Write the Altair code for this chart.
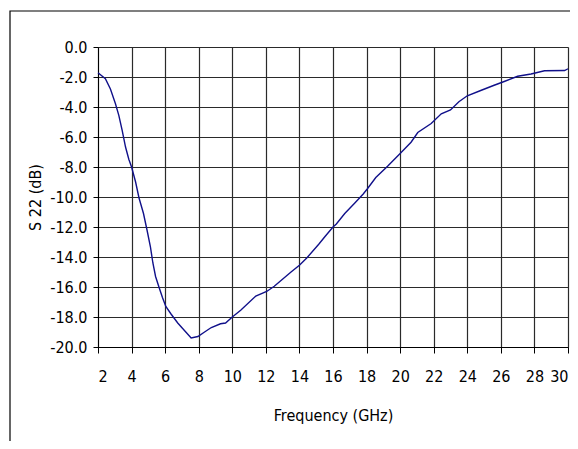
import altair as alt
import pandas as pd

freq = [2.0, 2.44, 2.74, 3.04, 3.24, 3.44, 3.64, 3.84, 4.0, 4.24, 4.44, 4.71, 4.92, 5.12,
        5.27, 5.43, 5.63, 5.84, 6.04, 6.35, 6.75, 7.15, 7.55, 7.95, 8.35, 8.75, 9.3, 9.6,
        10.0, 10.5, 11.4, 12.05, 12.5, 13.5, 14.0, 14.45, 15.15, 15.55, 16.0, 16.2, 16.7,
        17.3, 17.8, 18.05, 18.55, 19.25, 20.0, 20.65, 21.05, 21.85, 22.45, 23.0, 23.5, 24.0,
        24.8, 25.6, 26.2, 27.0, 27.8, 28.6, 29.8, 30.0]
s22 = [-1.72, -2.11, -2.8, -3.78, -4.56, -5.56, -6.67, -7.5, -8.0, -9.0, -10.05, -11.1,
       -12.2, -13.3, -14.4, -15.3, -16.0, -16.7, -17.3, -17.8, -18.4, -18.9, -19.4, -19.3,
       -19.0, -18.7, -18.45, -18.4, -18.0, -17.55, -16.6, -16.3, -15.95, -15.0, -14.55,
       -14.05, -13.15, -12.6, -12.0, -11.8, -11.1, -10.4, -9.8, -9.45, -8.7, -7.95, -7.1,
       -6.35, -5.7, -5.1, -4.45, -4.2, -3.65, -3.25, -2.9, -2.55, -2.3, -1.95, -1.8, -1.58,
       -1.57, -1.45]
x_ticks = list(range(2, 31, 2))
y_ticks = list(range(-20, 1, 2))

df = pd.DataFrame({"f": freq, "s": s22})
FONT = "Liberation Sans Narrow, Arial Narrow, DejaVu Sans Condensed, sans-serif"
GRID = "#2a2a2a"

line = alt.Chart(df).mark_line(color="#10108a", strokeWidth=1.4).encode(
    x=alt.X("f:Q", scale=alt.Scale(domain=[2, 30], nice=False, zero=False),
            axis=alt.Axis(values=x_ticks, title="Frequency (GHz)", grid=True,
                          gridColor=GRID, gridOpacity=1, gridWidth=1.2, tickSize=6,
                          tickColor="black", domainColor="black", labelPadding=15,
                          titlePadding=23, labelFontSize=16, titleFontSize=16,
                          titleFontWeight="normal", labelColor="black", titleColor="black",
                          labelFont=FONT, titleFont=FONT)),
    y=alt.Y("s:Q", scale=alt.Scale(domain=[-20, 0], nice=False, zero=False),
            axis=alt.Axis(values=y_ticks, title="S 22 (dB)", grid=True,
                          gridColor=GRID, gridOpacity=1, gridWidth=1.2, tickSize=5,
                          tickColor="black", domainColor="black", labelPadding=6,
                          titlePadding=6,
                          labelExpr="datum.value == 0 ? '0.0' : '-' + format(-datum.value, '.1f')",
                          labelFontSize=16, titleFontSize=16, titleFontWeight="normal",
                          labelColor="black", titleColor="black", labelFont=FONT,
                          titleFont=FONT)),
)

frame = alt.Chart(alt.Data(values=[{}])).mark_rect(
    fillOpacity=0, stroke="black", strokeWidth=1.2, clip=False
).encode(
    x=alt.value(-88), x2=alt.value(500), y=alt.value(-36), y2=alt.value(470)
)

chart = alt.layer(frame, line).properties(
    width=470, height=300,
    autosize=alt.AutoSizeParams(type="none"),
    padding={"left": 90, "top": 39, "right": 2, "bottom": 94},
).configure_view(stroke=GRID, strokeWidth=1.2).configure(background="white")

chart.save("out.html", embed_options={"renderer": "svg", "actions": False})
